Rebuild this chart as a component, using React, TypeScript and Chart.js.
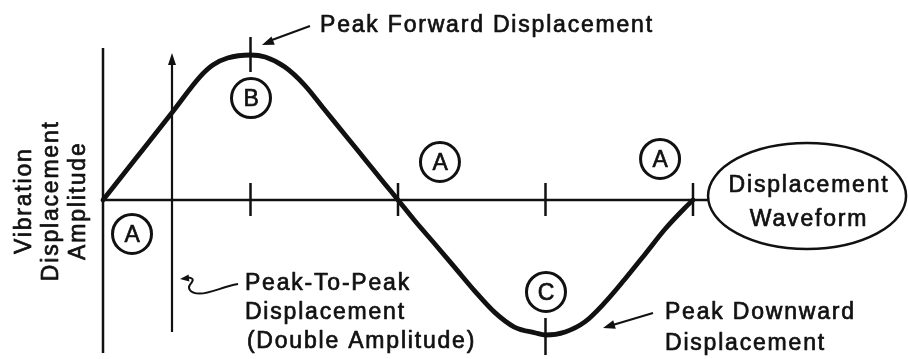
import React, { useEffect, useRef } from "react";
import { Chart, registerables } from "chart.js";

Chart.register(...registerables);

// One cycle of the displacement waveform: phase in degrees, displacement as a fraction of the peak
const phaseDeg = [0, 20, 43, 59, 67, 76, 90, 99, 111, 123, 135, 148, 160, 172, 180, 190, 203, 215, 227, 239, 251, 264, 270, 282, 294, 306, 318, 331, 343, 355, 360];
const displacement = [0, 0.286, 0.616, 0.848, 0.931, 0.979, 1.0, 0.986, 0.917, 0.793, 0.626, 0.445, 0.278, 0.111, 0, -0.14, -0.31, -0.47, -0.63, -0.775, -0.876, -0.917, -0.931, -0.91, -0.841, -0.71, -0.552, -0.37, -0.2, -0.055, 0];

// Tick marks along the time axis
const axisTickPhases = [90, 180, 270, 360];
const peakPhase = 90;
const troughPhase = 270;

// Text
const axisTitleLines = ["Vibration", "Displacement", "Amplitude"];
const forwardLabel = ["Peak Forward Displacement"];
const downwardLabel = ["Peak Downward", "Displacement"];
const peakToPeakLabel = ["Peak-To-Peak", "Displacement", "(Double Amplitude)"];
const waveformLabel = ["Displacement", "Waveform"];
const markerLetters = ["A", "B", "A", "A", "C"];

const INK = "#111111";
const FONT = '23px "Liberation Sans", Arial, Helvetica, sans-serif';

type Pt = { p: number; a: number };

// Where each circled letter sits (phase, displacement)
const markerSpots: Pt[] = [
  { p: 17.7, a: -0.234 },
  { p: 90.3, a: 0.703 },
  { p: 205.6, a: 0.262 },
  { p: 339.9, a: 0.283 },
  { p: 270.3, a: -0.634 },
];

function arrowHead(ctx: CanvasRenderingContext2D, fx: number, fy: number, tx: number, ty: number, len: number, half: number) {
  const ang = Math.atan2(ty - fy, tx - fx);
  const bx = tx - Math.cos(ang) * len;
  const by = ty - Math.sin(ang) * len;
  const nx = -Math.sin(ang) * half;
  const ny = Math.cos(ang) * half;
  ctx.beginPath();
  ctx.moveTo(tx, ty);
  ctx.lineTo(bx + nx, by + ny);
  ctx.lineTo(bx - nx, by - ny);
  ctx.closePath();
  ctx.fill();
}

// Text drawn with a thin outline so it reads as heavy as printed lettering
function inkText(ctx: CanvasRenderingContext2D, s: string, x: number, y: number) {
  ctx.fillText(s, x, y);
  ctx.strokeText(s, x, y);
}

const diagramPlugin = {
  id: "waveformDiagram",
  beforeDatasetsDraw(chart: any) {
    const { ctx, scales } = chart;
    const X = (v: number) => scales.x.getPixelForValue(v);
    const Y = (v: number) => scales.y.getPixelForValue(v);
    ctx.save();
    ctx.strokeStyle = INK;
    ctx.fillStyle = INK;
    ctx.lineCap = "butt";

    // amplitude axis
    ctx.lineWidth = 2.5;
    ctx.beginPath();
    ctx.moveTo(X(0), Y(1.048));
    ctx.lineTo(X(0), Y(-1.055));
    ctx.stroke();

    // time axis
    ctx.beginPath();
    ctx.moveTo(X(0), Y(0));
    ctx.lineTo(X(369), Y(0));
    ctx.stroke();

    // ticks on the time axis
    axisTickPhases.forEach((ph) => {
      ctx.beginPath();
      ctx.moveTo(X(ph), Y(0) - 17);
      ctx.lineTo(X(ph), Y(0) + 16);
      ctx.stroke();
    });

    // ticks through the peak and the trough
    ctx.beginPath();
    ctx.moveTo(X(peakPhase), Y(1.124));
    ctx.lineTo(X(peakPhase), Y(0.883));
    ctx.moveTo(X(troughPhase), Y(-0.814));
    ctx.lineTo(X(troughPhase), Y(-1.069));
    ctx.stroke();

    // peak-to-peak arrow
    ctx.lineWidth = 2.2;
    ctx.beginPath();
    ctx.moveTo(X(42.1), Y(-0.91));
    ctx.lineTo(X(42.1), Y(0.95));
    ctx.stroke();
    arrowHead(ctx, X(42.1), Y(0), X(42.1), Y(1.014), 12, 4);

    ctx.restore();
  },
  afterDatasetsDraw(chart: any) {
    const { ctx, scales } = chart;
    const X = (v: number) => scales.x.getPixelForValue(v);
    const Y = (v: number) => scales.y.getPixelForValue(v);
    ctx.save();
    ctx.strokeStyle = INK;
    ctx.fillStyle = INK;
    ctx.font = FONT;
    (ctx as any).letterSpacing = "1.8px";
    ctx.textBaseline = "alphabetic";
    ctx.lineJoin = "round";

    // circled letters
    markerSpots.forEach((s, i) => {
      const cx = X(s.p);
      const cy = Y(s.a);
      ctx.lineWidth = 3;
      ctx.beginPath();
      ctx.arc(cx, cy, 19.5, 0, Math.PI * 2);
      ctx.stroke();
      ctx.textAlign = "center";
      ctx.lineWidth = 0.7;
      inkText(ctx, markerLetters[i], cx + 1, cy + 8);
    });

    ctx.lineWidth = 0.7;
    // rotated amplitude title
    const titleBaselines = [-43.9, -27.5, -11.0];
    axisTitleLines.forEach((line, i) => {
      ctx.save();
      ctx.translate(X(titleBaselines[i]), Y(-0.005));
      ctx.rotate(-Math.PI / 2);
      ctx.textAlign = "center";
      inkText(ctx, line, 0, 0);
      ctx.restore();
    });

    ctx.textAlign = "left";
    // peak forward label and pointer
    inkText(ctx, forwardLabel[0], X(132.4), Y(1.159));
    ctx.lineWidth = 2;
    ctx.beginPath();
    ctx.moveTo(X(126.3), Y(1.2));
    ctx.lineTo(X(101), Y(1.095));
    ctx.stroke();
    arrowHead(ctx, X(126.3), Y(1.2), X(97.0), Y(1.069), 12, 4.5);

    // peak downward label and pointer
    ctx.lineWidth = 0.7;
    inkText(ctx, downwardLabel[0], X(342.9), Y(-0.821));
    inkText(ctx, downwardLabel[1], X(342.9), Y(-1.034));
    ctx.lineWidth = 2;
    ctx.beginPath();
    ctx.moveTo(X(335.6), Y(-0.779));
    ctx.lineTo(X(310), Y(-0.866));
    ctx.stroke();
    arrowHead(ctx, X(335.6), Y(-0.779), X(305.1), Y(-0.883), 12, 4.5);

    // peak-to-peak label and squiggle pointer
    ctx.lineWidth = 0.7;
    inkText(ctx, peakToPeakLabel[0], X(86.6), Y(-0.621));
    inkText(ctx, peakToPeakLabel[1], X(86.6), Y(-0.821));
    inkText(ctx, peakToPeakLabel[2], X(87.8), Y(-1.021));
    ctx.lineWidth = 2;
    ctx.beginPath();
    ctx.moveTo(X(82.4), Y(-0.579));
    ctx.bezierCurveTo(X(72), Y(-0.6), X(66), Y(-0.645), X(59), Y(-0.645));
    ctx.bezierCurveTo(X(52), Y(-0.645), X(52), Y(-0.6), X(53), Y(-0.585));
    ctx.bezierCurveTo(X(55), Y(-0.56), X(56), Y(-0.54), X(52), Y(-0.535));
    ctx.stroke();
    arrowHead(ctx, X(54.9), Y(-0.535), X(47.0), Y(-0.545), 9, 3.5);

    // waveform callout
    ctx.lineWidth = 2.5;
    ctx.beginPath();
    ctx.ellipse(X(429.6), Y(0.028), 99, 53, 0, 0, Math.PI * 2);
    ctx.stroke();
    ctx.textAlign = "center";
    ctx.lineWidth = 0.7;
    inkText(ctx, waveformLabel[0], X(430.8), Y(0.055));
    inkText(ctx, waveformLabel[1], X(430.8), Y(-0.179));

    ctx.restore();
  },
};

export default function App() {
  const canvasRef = useRef<HTMLCanvasElement | null>(null);

  useEffect(() => {
    if (!canvasRef.current) return;
    const chart = new Chart(canvasRef.current, {
      type: "line",
      data: {
        datasets: [
          {
            data: phaseDeg.map((p, i) => ({ x: p, y: displacement[i] })),
            borderColor: INK,
            borderWidth: 4.8,
            pointRadius: 0,
            cubicInterpolationMode: "monotone",
            borderCapStyle: "round",
            borderJoinStyle: "round",
            fill: false,
            clip: false as any,
          },
        ],
      },
      options: {
        animation: false,
        responsive: true,
        maintainAspectRatio: false,
        events: [],
        layout: { padding: 0 },
        plugins: { legend: { display: false }, tooltip: { enabled: false } },
        scales: {
          x: { type: "linear", min: -62.85, max: 491.19, display: false },
          y: { type: "linear", min: -1.0966, max: 1.3793, display: false },
        },
      },
      plugins: [diagramPlugin],
    });
    return () => chart.destroy();
  }, []);

  return (
    <div style={{ position: "fixed", left: 0, top: 0, width: 908, height: 359, background: "#fff" }}>
      <canvas ref={canvasRef} />
    </div>
  );
}
